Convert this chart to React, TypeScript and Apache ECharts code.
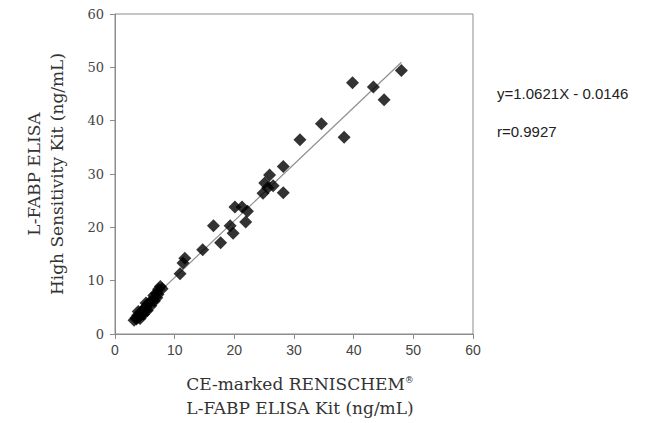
import React, { useEffect, useRef } from "react";
import * as echarts from "echarts";

const xTicks = [0, 10, 20, 30, 40, 50, 60];
const yTicks = [0, 10, 20, 30, 40, 50, 60];

// CE-marked RENISCHEM kit (x) vs High Sensitivity kit (y), ng/mL
const xValues = [
  3.2, 3.5, 3.6, 3.8, 4.0, 4.3, 4.4, 4.6, 4.9, 5.0, 5.2, 5.5, 5.8, 6.2, 6.5, 6.9, 7.0, 7.3, 7.6, 7.9,
  4.2, 4.8, 3.9, 5.4, 6.0, 6.6, 7.2, 5.2,
  10.9, 11.4, 11.7, 14.7, 16.5, 17.7, 19.3, 19.8, 20.1, 21.3, 22.2, 21.9,
  24.8, 25.1, 25.6, 25.9, 26.5, 28.2, 28.2, 31.0, 34.6, 38.4, 39.8, 43.3, 45.1, 48.0,
];
const yValues = [
  2.6, 3.0, 2.8, 3.5, 3.2, 4.0, 3.6, 4.4, 4.8, 4.2, 5.0, 5.6, 5.9, 6.3, 7.2, 7.6, 6.8, 8.4, 8.9, 8.5,
  2.9, 3.7, 4.2, 4.4, 5.3, 6.2, 7.4, 5.8,
  11.3, 13.3, 14.2, 15.8, 20.3, 17.1, 20.3, 18.9, 23.8, 23.8, 23.0, 21.0,
  26.4, 28.3, 27.4, 29.8, 27.8, 26.5, 31.4, 36.4, 39.4, 36.9, 47.1, 46.3, 43.9, 49.4,
];

// regression line end points
const fitX = [3.0, 48.0];
const fitY = [3.17, 50.96];

const equationText = "y=1.0621X - 0.0146";
const rText = "r=0.9927";

export default function App() {
  const ref = useRef<HTMLDivElement>(null);
  useEffect(() => {
    if (!ref.current) return;
    const chart = echarts.init(ref.current, null, { renderer: "svg" });
    const points = xValues.map((x, i) => [x, yValues[i]]);
    const fit = fitX.map((x, i) => [x, fitY[i]]);
    const axisColor = "#8c8c8c";
    const titleStyle = {
      fontFamily: "DejaVu Serif, serif",
      fontSize: 17,
      fill: "#333",
      align: "center",
      verticalAlign: "middle",
    };
    chart.setOption({
      animation: false,
      backgroundColor: "#ffffff",
      grid: {
        left: 115,
        top: 14,
        width: 358,
        height: 320,
        show: true,
        borderColor: axisColor,
        borderWidth: 1,
        backgroundColor: "transparent",
      },
      xAxis: {
        type: "value",
        min: xTicks[0],
        max: xTicks[xTicks.length - 1],
        interval: 10,
        splitLine: { show: false },
        axisLine: { show: true, lineStyle: { color: axisColor, width: 1 } },
        axisTick: { show: true, inside: false, length: 5, lineStyle: { color: axisColor } },
        axisLabel: {
          margin: 9,
          color: "#444",
          fontFamily: "Liberation Sans, Arial, sans-serif",
          fontSize: 14,
        },
      },
      yAxis: {
        type: "value",
        min: yTicks[0],
        max: yTicks[yTicks.length - 1],
        interval: 10,
        splitLine: { show: false },
        axisLine: { show: true, lineStyle: { color: axisColor, width: 1 } },
        axisTick: { show: true, inside: false, length: 5, lineStyle: { color: axisColor } },
        axisLabel: {
          margin: 11,
          color: "#444",
          fontFamily: "DejaVu Serif, serif",
          fontSize: 13,
        },
      },
      series: [
        {
          type: "line",
          data: fit,
          showSymbol: false,
          symbol: "none",
          lineStyle: { color: "#8f8f8f", width: 1.2 },
          z: 1,
        },
        {
          type: "scatter",
          data: points,
          symbol: "diamond",
          symbolSize: 13,
          itemStyle: { color: "#000000" },
          z: 2,
        },
      ],
      graphic: [
        {
          type: "text",
          x: 34,
          y: 174,
          rotation: Math.PI / 2,
          style: { ...titleStyle, text: "L-FABP ELISA" },
        },
        {
          type: "text",
          x: 57,
          y: 174,
          rotation: Math.PI / 2,
          style: { ...titleStyle, text: "High Sensitivity Kit (ng/mL)" },
        },
        {
          type: "text",
          x: 300,
          y: 384,
          style: {
            ...titleStyle,
            text: "CE-marked RENISCHEM{r|®}",
            rich: {
              r: {
                fontFamily: "DejaVu Serif, serif",
                fontSize: 9,
                fill: "#333",
                verticalAlign: "top",
                padding: [0, 0, 7, 0],
              },
            },
          },
        },
        {
          type: "text",
          x: 300,
          y: 408,
          style: { ...titleStyle, text: "L-FABP ELISA Kit (ng/mL)" },
        },
        {
          type: "text",
          x: 497,
          y: 93,
          style: {
            text: equationText,
            fontFamily: "Liberation Sans, Arial, sans-serif",
            fontSize: 15,
            fill: "#222",
            align: "left",
            verticalAlign: "middle",
          },
        },
        {
          type: "text",
          x: 497,
          y: 131,
          style: {
            text: rText,
            fontFamily: "Liberation Sans, Arial, sans-serif",
            fontSize: 15,
            fill: "#222",
            align: "left",
            verticalAlign: "middle",
          },
        },
      ],
    });
    return () => chart.dispose();
  }, []);
  return (
    <div
      ref={ref}
      style={{ position: "fixed", left: 0, top: 0, width: 668, height: 423 }}
    />
  );
}
